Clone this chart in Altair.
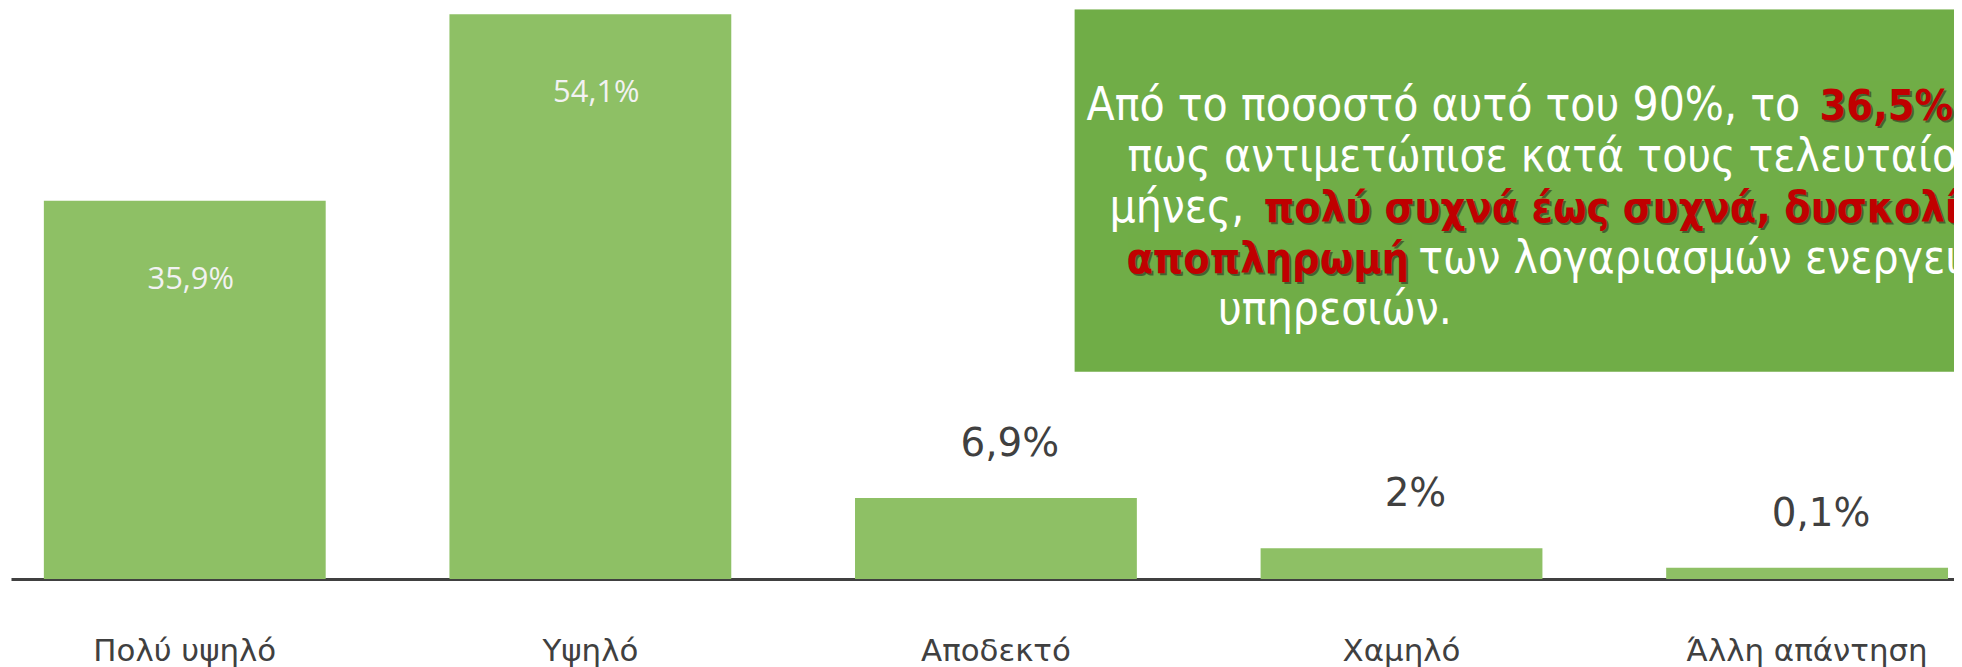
import altair as alt
import pandas as pd

# ---------------- data ----------------
categories = ["Πολύ υψηλό", "Υψηλό", "Αποδεκτό", "Χαμηλό", "Άλλη απάντηση"]
values = [35.9, 54.1, 6.9, 2.0, 0.1]
value_labels = ["35,9%", "54,1%", "6,9%", "2%", "0,1%"]

# annotation text (segments, line number, highlighted or not)
note_text = [
    "Από το ποσοστό αυτό του 90%, το", "36,5%", "δήλωσε",
    "πως αντιμετώπισε κατά τους τελευταίους 12",
    "μήνες,", "πολύ συχνά έως συχνά, δυσκολία", "στην",
    "αποπληρωμή", "των λογαριασμών ενεργειακών",
    "υπηρεσιών.",
]
note_line = [0, 0, 0, 1, 2, 2, 2, 3, 3, 4]
note_red = [False, True, False, False, False, True, False, True, False, False]

# ---------------- layout (pixels inside the plot area) ----------------
note_x = [1080, 1816, 1990, 1121, 1103, 1258, 2000, 1120, 1413, 1212]
LINE0 = 111
LINE_STEP = 51.3
PLOT_W = 1951
PLOT_H = 572
NOTE_FONT = "DejaVu Sans Condensed, Liberation Sans, sans-serif"
WHITE_SIZE = 46
RED_SIZE = 43

df = pd.DataFrame({"cat": categories, "val": values, "lab": value_labels})

notes = pd.DataFrame({
    "t": note_text,
    "line": note_line,
    "red": note_red,
    "px": note_x,
})
notes["py"] = LINE0 + LINE_STEP * notes["line"]

BAR = "#8EC065"
BOX = "#70AD47"
RED = "#C00000"
DARK = "#404040"

xenc = alt.X(
    "cat:N",
    sort=categories,
    scale=alt.Scale(paddingInner=0.3051, paddingOuter=0.0479, align=0.846, round=False),
    axis=alt.Axis(
        title=None, ticks=False, tickSize=0, domain=True,
        domainColor=DARK, domainWidth=3,
        labelFontSize=31, labelFont="DejaVu Sans", labelColor=DARK,
        labelAngle=0, labelPadding=82, labelBaseline="alphabetic",
        labelLimit=0,
    ),
)
yenc = alt.Y("val:Q", scale=alt.Scale(domain=[-1, 54.59], nice=False, zero=False), axis=None)

base = alt.Chart(df)

bars = base.mark_bar(color=BAR).encode(x=xenc, y=yenc, y2=alt.datum(-1))

inside = base.transform_filter("datum.val > 20").mark_text(
    font="Open Sans", fontSize=31, color="#F2F2F2", baseline="middle", dy=79, dx=6
).encode(x=alt.X("cat:N", sort=categories), y=alt.Y("val:Q"), text="lab:N")

outside = base.transform_filter("datum.val <= 20").mark_text(
    font="DejaVu Sans", fontSize=39, color=DARK, baseline="middle", dy=-54, dx=14
).encode(x=alt.X("cat:N", sort=categories), y=alt.Y("val:Q"), text="lab:N")

box = alt.Chart(pd.DataFrame({"k": [0]})).mark_rect(color=BOX, clip=True).encode(
    x=alt.value(1068), x2=alt.value(PLOT_W), y=alt.value(0), y2=alt.value(364)
)

nchart = alt.Chart(notes)

white_txt = nchart.transform_filter("!datum.red").mark_text(
    font=NOTE_FONT, fontSize=WHITE_SIZE, color="white",
    align="left", baseline="alphabetic", clip=True
).encode(x=alt.X("px:Q", scale=None), y=alt.Y("py:Q", scale=None), text="t:N")

red_shadow = nchart.transform_filter("datum.red").mark_text(
    font=NOTE_FONT, fontSize=RED_SIZE, fontWeight="bold", color="#1a1a1a",
    opacity=0.5, align="left", baseline="alphabetic", dx=2, dy=2, clip=True
).encode(x=alt.X("px:Q", scale=None), y=alt.Y("py:Q", scale=None), text="t:N")

red_txt = nchart.transform_filter("datum.red").mark_text(
    font=NOTE_FONT, fontSize=RED_SIZE, fontWeight="bold", color=RED,
    align="left", baseline="alphabetic", clip=True
).encode(x=alt.X("px:Q", scale=None), y=alt.Y("py:Q", scale=None), text="t:N")

chart = alt.layer(bars, inside, outside, box, white_txt, red_shadow, red_txt).properties(
    width=PLOT_W,
    height=PLOT_H,
    autosize=alt.AutoSizeParams(type="none"),
    padding={"left": 3, "top": 0, "right": 0, "bottom": 87},
    background="white",
).configure_view(strokeWidth=0)

chart.save("out.html", embed_options={"renderer": "svg", "actions": False})
